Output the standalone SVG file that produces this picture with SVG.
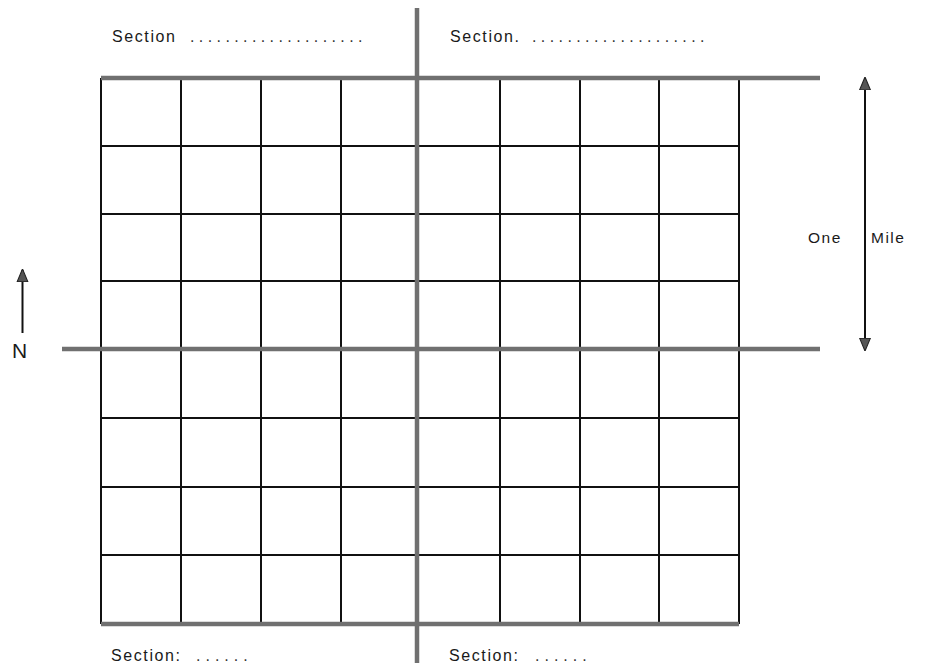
<svg xmlns="http://www.w3.org/2000/svg" width="925" height="663" viewBox="0 0 925 663">
<defs>
<marker id="ah" viewBox="0 0 12 12" refX="11" refY="6" markerWidth="13" markerHeight="13" markerUnits="userSpaceOnUse" orient="auto-start-reverse">
<path d="M0,1 L12,6 L0,11 Z" fill="#555" stroke="#222" stroke-width="1"/>
</marker>
</defs>
<style>
.thin{stroke:#111;stroke-width:2;fill:none}
.thick{stroke:#707070;stroke-width:4.5;fill:none}
.arr{stroke:#111;stroke-width:2;fill:none}
.lbl{font-family:"Liberation Sans",Arial,sans-serif;font-size:16px;fill:#1a1a1a;letter-spacing:1.6px}
.dots{font-family:"Liberation Sans",Arial,sans-serif;font-size:16px;fill:#333}
.side{font-family:"Liberation Sans",Arial,sans-serif;font-size:15.5px;fill:#1a1a1a;letter-spacing:1.5px}
</style>
<rect width="925" height="663" fill="#fff"/>
<g id="grid">
<g id="thin-lines" class="thin">
<path d="M101,78V624M181,78V624M261,78V624M341,78V624M500,78V624M580,78V624M659,78V624M739,78V624"/>
<path d="M101,146H739M101,214H739M101,281H739M101,418H739M101,487H739M101,555H739"/>
</g>
<g id="section-lines" class="thick">
<path d="M101,78H820"/>
<path d="M62,349H820"/>
<path d="M101,624H739"/>
<path d="M417,8V663"/>
</g>
</g>
<g id="labels">
<text class="lbl" x="112" y="42">Section</text>
<text class="dots" x="190" y="42" letter-spacing="4.4">....................</text>
<text class="lbl" x="450" y="42">Section.</text>
<text class="dots" x="532" y="42" letter-spacing="4.4">....................</text>
<text class="lbl" x="111" y="661" letter-spacing="2.3">Section:</text>
<text class="dots" x="196" y="661" letter-spacing="5">......</text>
<text class="lbl" x="449" y="661" letter-spacing="2.3">Section:</text>
<text class="dots" x="535" y="661" letter-spacing="5">......</text>
</g>
<g id="connectors">
<path class="arr" d="M865,78V350" marker-start="url(#ah)" marker-end="url(#ah)"/>
<path class="arr" d="M22.5,333V270" marker-end="url(#ah)"/>
</g>
<g id="scale-label">
<text class="side" x="808" y="243">One</text>
<text class="side" x="871" y="243">Mile</text>
<text x="12" y="358" style="font-family:'Liberation Sans',Arial,sans-serif;font-size:21px;fill:#1a1a1a">N</text>
</g>
</svg>
